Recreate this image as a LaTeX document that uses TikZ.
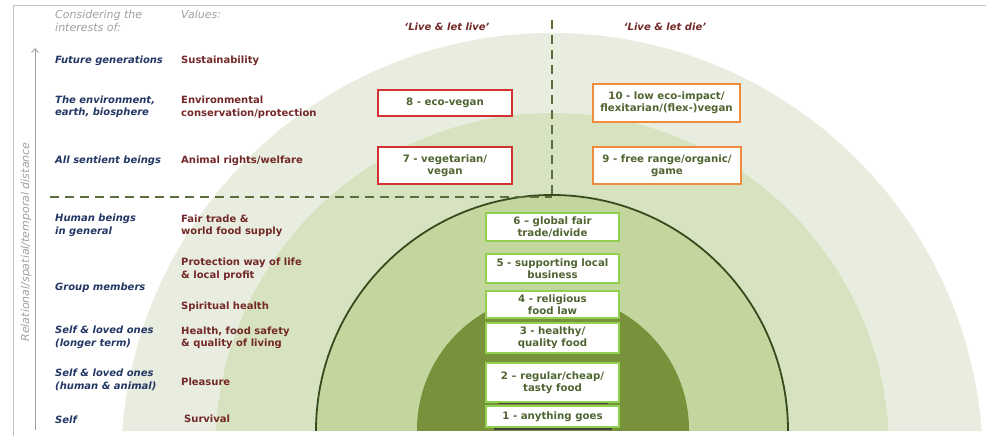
\documentclass[tikz,border=0pt]{standalone}
\usepackage{fontspec}
\setmainfont{DejaVu Sans}
\usetikzlibrary{arrows.meta}
\definecolor{ringA}{RGB}{233,237,223}
\definecolor{ringB}{RGB}{215,227,192}
\definecolor{ringC}{RGB}{194,214,158}
\definecolor{ringD}{RGB}{119,146,58}
\definecolor{rimgreen}{RGB}{55,75,30}
\definecolor{dashgreen}{RGB}{90,110,60}
\definecolor{navyblue}{RGB}{35,55,100}
\definecolor{wine}{RGB}{115,40,40}
\definecolor{hdrgray}{RGB}{160,160,160}
\definecolor{boxtext}{RGB}{80,100,50}
\definecolor{boxgreen}{RGB}{146,208,80}
\definecolor{boxred}{RGB}{210,50,50}
\definecolor{boxorange}{RGB}{240,140,60}
\definecolor{framegray}{RGB}{195,195,195}
\tikzset{
  who/.style={anchor=west, align=left, font=\fontsize{10}{12.5}\selectfont\bfseries\itshape, text=navyblue, inner sep=0},
  val/.style={anchor=west, align=left, font=\fontsize{10}{12.5}\selectfont\bfseries, text=wine, inner sep=0},
  hdr/.style={anchor=west, align=left, font=\fontsize{11}{13}\selectfont\itshape, text=hdrgray, inner sep=0},
  camp/.style={font=\fontsize{10}{12}\selectfont\bfseries\itshape, text=wine, inner sep=0},
  diet/.style={draw, fill=white, line width=1.5pt, align=center, inner sep=0, font=\fontsize{10.2}{12}\selectfont\bfseries, text=boxtext},
  redbox/.style={diet, draw=boxred},
  orangebox/.style={diet, draw=boxorange},
  greenbox/.style={diet, draw=boxgreen, minimum width=133pt},
  divider/.style={dashgreen, line width=1.6pt, dash pattern=on 9pt off 6pt},
}
\begin{document}
\begin{tikzpicture}[x=1pt,y=-1pt]
\useasboundingbox (0,0) rectangle (986,436);
% frame
\draw[framegray, line width=1pt] (986,6) -- (13,6) -- (13,436);
% rings
\begin{scope}
  \clip (0,0) rectangle (986,430);
  \fill[ringA] (552,464) circle[radius=431pt];
  \fill[ringB] (552,450) circle[radius=337pt];
  \fill[ringC] (552,431) circle[radius=236pt];
  \draw[rimgreen, line width=1.8pt] (552,431) circle[radius=236pt];
  \fill[ringD] (553,430) circle[radius=136pt];
\end{scope}
% dashed dividers
\coordinate (vtop) at (552,20);
\coordinate (vbot) at (552,195);
\coordinate (hleft) at (50,197);
\coordinate (hright) at (552,197);
\draw[divider] (vtop) -- (vbot);
\draw[divider] (hleft) -- (hright);
% axis
\coordinate (axbot) at (35,430);
\coordinate (axtop) at (35,48);
\draw[hdrgray, line width=0.8pt, -{Straight Barb[length=4pt,width=7pt]}] (axbot) -- (axtop);
\node[font=\fontsize{11}{13}\selectfont\itshape, text=hdrgray, rotate=90, inner sep=0] (axlabel) at (26,242) {Relational/spatial/temporal distance};
% headers
\node[hdr] (h1) at (55,21) {Considering the\\interests of:};
\node[hdr] (h2) at (181,14.5) {Values:};
\node[camp] (live) at (447,27) {‘Live \& let live’};
\node[camp] (die) at (665,27) {‘Live \& let die’};
% left column
\node[who] (w1) at (55,61) {Future generations};
\node[who] (w2) at (55,106.5) {The environment,\\earth, biosphere};
\node[who] (w3) at (55,161) {All sentient beings};
\node[who] (w4) at (55,225.5) {Human beings\\in general};
\node[who] (w5) at (55,288) {Group members};
\node[who] (w6) at (55,337.5) {Self \& loved ones\\(longer term)};
\node[who] (w7) at (55,380) {Self \& loved ones\\(human \& animal)};
\node[who] (w8) at (55,420) {Self};
% values column
\node[val] (v1) at (181,61) {Sustainability};
\node[val] (v2) at (181,107) {Environmental\\conservation/protection};
\node[val] (v3) at (181,161) {Animal rights/welfare};
\node[val] (v4) at (181,226) {Fair trade \&\\world food supply};
\node[val] (v5) at (181,269) {Protection way of life\\\& local profit};
\node[val] (v6) at (181,307) {Spiritual health};
\node[val] (v7) at (181,338) {Health, food safety\\\& quality of living};
\node[val] (v8) at (181,382) {Pleasure};
\node[val] (v9) at (184,419) {Survival};
% small dark strokes under boxes
\coordinate (s1a) at (498,403);
\coordinate (s1b) at (608,403);
\coordinate (s2a) at (494,429);
\coordinate (s2b) at (612,429);
\draw[black!75, line width=1.2pt] (s1a) -- (s1b);
\draw[black!75, line width=1.2pt] (s2a) -- (s2b);
% diet boxes
\node[redbox, minimum width=134pt, minimum height=26pt] (b8) at (445,103) {8 - eco-vegan};
\node[redbox, minimum width=134pt, minimum height=37pt] (b7) at (445,165.5) {7 - vegetarian/\\vegan};
\node[orangebox, minimum width=147pt, minimum height=38pt] (b10) at (666.5,103) {10 - low eco-impact/\\flexitarian/(flex-)vegan};
\node[orangebox, minimum width=148pt, minimum height=37pt] (b9) at (667,165.5) {9 - free range/organic/\\game};
\node[greenbox, minimum height=28pt] (b6) at (552.5,227) {6 – global fair\\trade/divide};
\node[greenbox, minimum height=29pt] (b5) at (552.5,268.5) {5 - supporting local\\business};
\node[greenbox, minimum height=27pt] (b4) at (552.5,304.5) {4 - religious\\food law};
\node[greenbox, minimum height=30pt] (b3) at (552.5,338) {3 - healthy/\\quality food};
\node[greenbox, minimum height=39pt] (b2) at (552.5,382.5) {2 – regular/cheap/\\tasty food};
\node[greenbox, minimum height=21pt] (b1) at (552.5,416.5) {1 - anything goes};
\end{tikzpicture}
\end{document}
